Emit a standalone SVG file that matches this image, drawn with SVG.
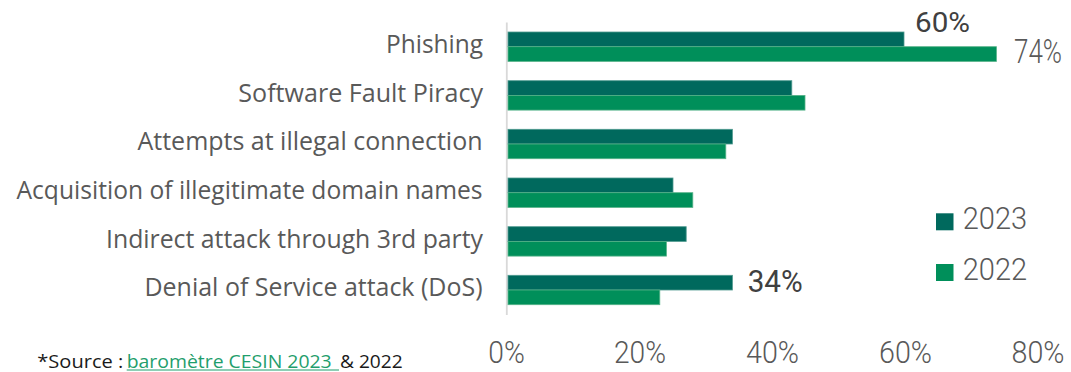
<svg xmlns="http://www.w3.org/2000/svg" width="1071" height="372" viewBox="0 0 1071 372">
<style>
.cat{font-family:"Open Sans","Noto Sans",sans-serif;font-size:25px;fill:#595959;text-anchor:end}
.b23{fill:#00695D;stroke:#4f9a8f;stroke-width:0.8}
.b22{fill:#008F5A;stroke:#55b288;stroke-width:0.8}
.ax{font-family:Roboto,"Liberation Sans",sans-serif;font-weight:300;font-size:32px;fill:#595959;text-anchor:middle}
.leg{font-family:Roboto,"Liberation Sans",sans-serif;font-weight:300;font-size:31px;fill:#595959}
.val{font-family:Roboto,"Liberation Sans",sans-serif;font-size:27px;fill:#404040}
.note{font-family:"Open Sans","Liberation Sans",sans-serif;font-size:19px;fill:#1a1a1a}
</style>
<rect width="1071" height="372" fill="#ffffff"/>
<line x1="506.8" y1="22.5" x2="506.8" y2="315" stroke="#d9d9d9" stroke-width="1.8"/>
<g id="phishing">
<text class="cat" x="483" y="53.3" textLength="97" lengthAdjust="spacingAndGlyphs">Phishing</text>
<rect class="b23" x="508" y="32" width="396" height="14.7"/>
<rect class="b22" x="508" y="46.7" width="488.4" height="14.7"/>
<text class="val" x="915" y="32.3" textLength="55" lengthAdjust="spacingAndGlyphs">60%</text>
<text class="val" x="1014" y="63.3" style="font-size:34px;font-weight:300;fill:#595959" textLength="48" lengthAdjust="spacingAndGlyphs">74%</text>
</g>
<g id="software">
<text class="cat" x="483" y="101.5" textLength="244.7" lengthAdjust="spacingAndGlyphs">Software Fault Piracy</text>
<rect class="b23" x="508" y="80.7" width="283.8" height="14.7"/>
<rect class="b22" x="508" y="95.4" width="297" height="14.7"/>
</g>
<g id="attempts">
<text class="cat" x="482.5" y="150.3" textLength="345" lengthAdjust="spacingAndGlyphs">Attempts at illegal connection</text>
<rect class="b23" x="508" y="129.3" width="224.4" height="14.7"/>
<rect class="b22" x="508" y="144" width="217.8" height="14.7"/>
</g>
<g id="acquisition">
<text class="cat" x="482.5" y="198.8" textLength="466" lengthAdjust="spacingAndGlyphs">Acquisition of illegitimate domain names</text>
<rect class="b23" x="508" y="178" width="165" height="14.7"/>
<rect class="b22" x="508" y="192.7" width="184.8" height="14.7"/>
</g>
<g id="indirect">
<text class="cat" x="483" y="247.5" textLength="377" lengthAdjust="spacingAndGlyphs">Indirect attack through 3rd party</text>
<rect class="b23" x="508" y="226.7" width="178.2" height="14.7"/>
<rect class="b22" x="508" y="241.4" width="158.4" height="14.7"/>
</g>
<g id="denial">
<text class="cat" x="482.5" y="296.3" textLength="338" lengthAdjust="spacingAndGlyphs">Denial of Service attack (DoS)</text>
<rect class="b23" x="508" y="275.3" width="224.4" height="14.7"/>
<rect class="b22" x="508" y="290" width="151.8" height="14.7"/>
<text class="val" x="747.7" y="291.7" style="font-size:32px" textLength="55" lengthAdjust="spacingAndGlyphs">34%</text>
</g>
<g id="legend">
<rect x="936" y="213.3" width="17.5" height="17" fill="#00695D"/>
<text class="leg" x="962.7" y="229.3" textLength="64.5" lengthAdjust="spacingAndGlyphs">2023</text>
<rect x="936" y="264" width="17.5" height="17" fill="#008F5A"/>
<text class="leg" x="962.7" y="280" textLength="64.5" lengthAdjust="spacingAndGlyphs">2022</text>
</g>
<g id="axis">
<text class="ax" x="506.5" y="362.5" textLength="36.5" lengthAdjust="spacingAndGlyphs">0%</text>
<text class="ax" x="640" y="362.5" textLength="52" lengthAdjust="spacingAndGlyphs">20%</text>
<text class="ax" x="772.5" y="362.5" textLength="53" lengthAdjust="spacingAndGlyphs">40%</text>
<text class="ax" x="905.5" y="362.5" textLength="53" lengthAdjust="spacingAndGlyphs">60%</text>
<text class="ax" x="1038" y="362.5" textLength="53" lengthAdjust="spacingAndGlyphs">80%</text>
</g>
<g id="source">
<text class="note" x="37.3" y="367.5" textLength="86" lengthAdjust="spacingAndGlyphs">*Source :</text>
<text class="note" x="126.7" y="367.5" style="fill:#1f9e6c" textLength="205" lengthAdjust="spacingAndGlyphs">baromètre CESIN 2023</text>
<line x1="126.7" y1="370" x2="339" y2="370" stroke="#1f9e6c" stroke-width="1.2"/>
<text class="note" x="340" y="367.5" textLength="62.7" lengthAdjust="spacingAndGlyphs">&amp; 2022</text>
</g>
<g id="connectors"/>
</svg>
